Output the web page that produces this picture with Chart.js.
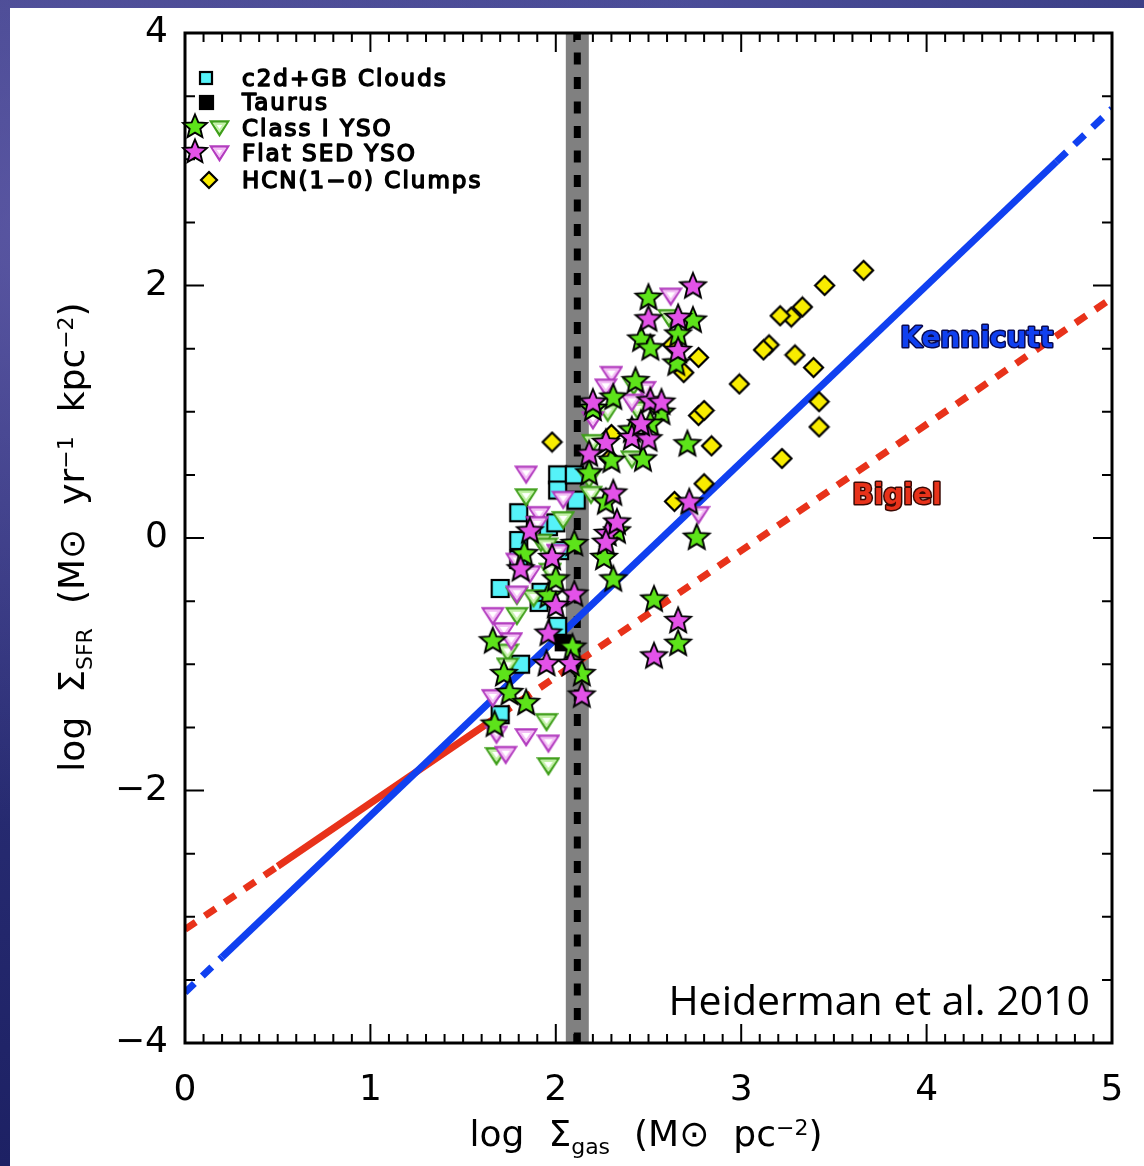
<!DOCTYPE html>
<html>
<head>
<meta charset="utf-8">
<script src="https://cdn.jsdelivr.net/npm/chart.js@4.4.1/dist/chart.umd.min.js"></script>
<style>
  html, body { margin: 0; padding: 0; }
  body {
    width: 1144px; height: 1166px; overflow: hidden; position: relative;
    background:
      radial-gradient(ellipse at 5% 20%, rgba(120,110,190,0.55), rgba(0,0,0,0) 45%),
      radial-gradient(ellipse at 60% 0%, rgba(90,90,170,0.5), rgba(0,0,0,0) 50%),
      linear-gradient(180deg, #3b3f86 0%, #2c3078 50%, #1d2164 100%);
  }
  #panel { position: absolute; left: 10px; top: 8px; width: 1134px; height: 1158px; background: #fff; }
  #chart { position: absolute; left: 0; top: 0; width: 1144px; height: 1166px; }
</style>
</head>
<body>
<div id="panel"></div>
<canvas id="chart" width="1144" height="1166"></canvas>
<script>
// log Σgas vs log ΣSFR, pairs [x, y]
const c2dClouds = [
  [2.01, 0.50], [2.01, 0.38], [2.10, 0.50], [2.11, 0.30], [1.80, 0.20], [1.89, 0.10],
  [1.96, 0.09], [2.00, 0.12], [1.80, -0.02], [2.02, -0.10], [1.80, -0.17], [1.70, -0.40],
  [1.91, -0.51], [1.92, -0.43], [2.01, -0.70], [1.81, -1.00], [1.70, -1.40]
];
const taurus = [[2.04, -0.83]];
const class1Stars = [
  [2.50, 1.91], [2.74, 1.73], [2.46, 1.58], [2.51, 1.51], [2.66, 1.62], [2.65, 1.39],
  [2.43, 1.25], [2.31, 1.12], [2.20, 1.03], [2.57, 1.00], [2.41, 0.86], [2.51, 0.91],
  [2.30, 0.62], [2.47, 0.63], [2.71, 0.75], [2.18, 0.52], [2.27, 0.29], [2.33, 0.06],
  [2.10, -0.04], [2.76, 0.01], [2.26, -0.15], [2.31, -0.32], [2.53, -0.48], [2.66, -0.83],
  [1.96, -0.45], [2.00, -0.32], [1.83, -0.12], [1.66, -0.81], [1.72, -1.07], [1.75, -1.22],
  [1.84, -1.30], [1.67, -1.47], [2.09, -0.86], [2.14, -1.07]
];
const class1Limits = [
  [2.61, 1.74], [2.42, 1.20], [2.28, 0.99], [2.44, 1.01], [2.20, 0.75], [2.41, 0.62],
  [2.18, 0.46], [2.19, 0.34], [1.84, 0.32], [2.04, 0.14], [1.92, -0.04], [1.95, -0.07],
  [1.97, -0.27], [1.79, -0.46], [1.88, -0.48], [1.79, -0.62], [1.74, -0.91], [1.74, -1.02],
  [1.95, -1.46], [1.68, -1.73], [1.96, -1.81]
];
const flatStars = [
  [2.74, 2.00], [2.50, 1.74], [2.66, 1.75], [2.66, 1.49], [2.20, 1.08], [2.51, 1.09],
  [2.57, 1.08], [2.41, 0.80], [2.50, 0.79], [2.27, 0.76], [2.18, 0.67], [2.46, 0.91],
  [2.31, 0.36], [2.28, 0.04], [2.33, 0.13], [2.72, 0.29], [1.86, 0.06], [2.27, -0.03],
  [1.81, -0.24], [1.98, -0.15], [2.10, -0.44], [2.00, -0.53], [1.96, -0.75], [1.95, -0.99],
  [2.08, -0.99], [2.14, -1.24], [2.66, -0.65], [2.53, -0.93]
];
const flatLimits = [
  [2.62, 1.91], [2.30, 1.29], [2.27, 1.19], [2.48, 1.17], [2.41, 1.07], [2.20, 0.93],
  [1.84, 0.50], [2.04, 0.30], [1.91, 0.18], [2.77, 0.18], [1.90, 0.10], [1.79, -0.19],
  [1.86, -0.29], [1.79, -0.45], [1.66, -0.62], [1.72, -0.74], [1.76, -0.82], [1.66, -1.27],
  [1.68, -1.56], [1.84, -1.58], [1.96, -1.63], [1.73, -1.72], [2.01, -0.12]
];
const hcnClumps = [
  [3.66, 2.12], [3.45, 2.00], [3.33, 1.83], [3.27, 1.75], [3.21, 1.76], [3.15, 1.53],
  [3.12, 1.49], [3.29, 1.45], [3.39, 1.35], [2.99, 1.22], [3.42, 1.08], [3.42, 0.88],
  [3.22, 0.63], [2.84, 0.73], [2.77, 0.97], [2.80, 1.01], [2.80, 0.43], [2.64, 0.29],
  [2.77, 1.43], [2.69, 1.31], [1.98, 0.76], [2.30, 0.82], [2.29, 0.63], [2.63, 1.53]
];

// Kennicutt and Bigiel relations: fitted range solid, extrapolation dashed
const kennicuttFit = [[0.2, -3.32], [4.7, 2.98]];
const kennicuttLow = [[0, -3.6], [0.2, -3.32]];
const kennicuttHigh = [[4.7, 2.98], [5, 3.4]];
const bigielFit = [[0.5, -2.6], [1.7, -1.4]];
const bigielLow = [[0, -3.1], [0.5, -2.6]];
const bigielHigh = [[1.7, -1.4], [5, 1.9]];

// star formation threshold (band and central value)
const thresholdBand = [2.054, 2.178];
const thresholdLine = 2.116;

const xTicks = [0, 1, 2, 3, 4, 5];
const yTicks = [-4, -2, 0, 2, 4];
const xMinor = 0.1;
const yMinor = 0.5;

const legendRows = ['c2d+GB Clouds', 'Taurus', 'Class I YSO', 'Flat SED YSO', 'HCN(1\u22120) Clumps'];

const toXY = arr => arr.map(p => ({ x: p[0], y: p[1] }));

function makeCanvas(w, h, draw) {
  const c = document.createElement('canvas');
  c.width = w; c.height = h;
  draw(c.getContext('2d'), w, h);
  return c;
}
function starImg(fill, R) {
  const s = Math.ceil(R * 2 + 5);
  return makeCanvas(s, s, g => {
    g.beginPath();
    for (let i = 0; i < 10; i++) {
      const r = i % 2 ? R * 0.45 : R;
      const a = -Math.PI / 2 + i * Math.PI / 5;
      const px = s / 2 + r * Math.cos(a), py = s / 2 + 1 + r * Math.sin(a);
      if (i) g.lineTo(px, py); else g.moveTo(px, py);
    }
    g.closePath();
    g.fillStyle = fill; g.fill();
    g.lineJoin = 'miter'; g.lineWidth = 1.9; g.strokeStyle = '#000'; g.stroke();
  });
}
function triImg(edge, pale, w) {
  const h = Math.round(w * 0.87);
  return makeCanvas(w + 4, h + 4, g => {
    g.beginPath(); g.moveTo(2, 2.5); g.lineTo(w + 2, 2.5); g.lineTo(w / 2 + 2, h + 1); g.closePath();
    g.fillStyle = '#fff'; g.fill();
    g.lineJoin = 'miter'; g.lineWidth = 2.4; g.strokeStyle = edge; g.stroke();
    g.beginPath(); g.moveTo(5.6, 4.8); g.lineTo(w - 1.6, 4.8); g.lineTo(w / 2 + 2, h - 3.2); g.closePath();
    g.lineWidth = 2.2; g.strokeStyle = pale; g.stroke();
  });
}
function squareImg(fill, s) {
  return makeCanvas(s + 4, s + 4, g => {
    g.fillStyle = fill; g.fillRect(2, 2, s, s);
    g.lineWidth = 2.2; g.strokeStyle = '#000'; g.strokeRect(2, 2, s, s);
  });
}
function diamondImg(fill, r) {
  const s = 2 * r + 4;
  return makeCanvas(s, s, g => {
    g.beginPath(); g.moveTo(s / 2, 2); g.lineTo(s - 2, s / 2); g.lineTo(s / 2, s - 2); g.lineTo(2, s / 2); g.closePath();
    g.fillStyle = fill; g.fill();
    g.lineJoin = 'miter'; g.lineWidth = 2.2; g.strokeStyle = '#000'; g.stroke();
  });
}

const imgs = {
  cloud: squareImg('#55f2f8', 17),
  cloudLegend: squareImg('#55f2f8', 12),
  taurus: squareImg('#000', 15),
  taurusLegend: squareImg('#000', 13),
  gStar: starImg('#5de31a', 13.5),
  mStar: starImg('#e352e8', 13.5),
  gStarLegend: starImg('#5de31a', 12.5),
  mStarLegend: starImg('#e352e8', 12.5),
  gTri: triImg('#3f9f1a', '#c4f2a8', 20),
  mTri: triImg('#b33cbf', '#f4bff6', 20),
  gTriLegend: triImg('#3f9f1a', '#c4f2a8', 17),
  mTriLegend: triImg('#b33cbf', '#f4bff6', 17),
  hcn: diamondImg('#f8ec00', 9.5),
  hcnLegend: diamondImg('#f8ec00', 8)
};

function points(label, data, img, order) {
  return { label, data: toXY(data), pointStyle: img, pointRadius: 10, order };
}
function lineSet(label, data, color, dash, order) {
  return {
    label, data: toXY(data), showLine: true, pointRadius: 0, borderColor: color,
    borderWidth: 7, borderDash: dash, borderCapStyle: 'butt', order
  };
}

const blue = '#1040f0';
const red = '#e8321a';

const bigFont = '36px "DejaVu Sans"';
const smallFont = '22px "DejaVu Sans"';

// text with subscripts ('b') and superscripts ('p'); numbers are gaps
function richText(g, parts, x, y) {
  let w = 0;
  parts.forEach(p => {
    if (typeof p === 'number') { w += p; return; }
    g.font = p[1] === 'n' ? bigFont : smallFont;
    w += g.measureText(p[0]).width;
  });
  let cx = x - w / 2;
  parts.forEach(p => {
    if (typeof p === 'number') { cx += p; return; }
    g.font = p[1] === 'n' ? bigFont : smallFont;
    const dy = p[1] === 'b' ? 8 : p[1] === 'p' ? -11 : 0;
    g.fillText(p[0], cx, y + dy);
    cx += g.measureText(p[0]).width;
  });
}

const bandPlugin = {
  id: 'band',
  beforeDatasetsDraw(chart) {
    const { ctx, chartArea: a } = chart;
    const sx = chart.scales.x;
    ctx.save();
    const x0 = sx.getPixelForValue(thresholdBand[0]);
    const x1 = sx.getPixelForValue(thresholdBand[1]);
    ctx.fillStyle = '#808080';
    ctx.fillRect(x0, a.top, x1 - x0, a.bottom - a.top);
    const xc = sx.getPixelForValue(thresholdLine);
    ctx.strokeStyle = '#000'; ctx.lineWidth = 7;
    ctx.setLineDash([12, 12.5]); ctx.lineDashOffset = 5;
    ctx.beginPath(); ctx.moveTo(xc, a.top); ctx.lineTo(xc, a.bottom); ctx.stroke();
    ctx.restore();
  }
};

const framePlugin = {
  id: 'frame',
  afterDraw(chart) {
    const { ctx, chartArea: a } = chart;
    const sx = chart.scales.x, sy = chart.scales.y;
    ctx.save();
    ctx.setLineDash([]);
    ctx.strokeStyle = '#000';
    ctx.lineWidth = 2;

    // x ticks, inward on bottom and top
    const xPerMajor = Math.round((xTicks[1] - xTicks[0]) / xMinor);
    const nx = Math.round((xTicks[xTicks.length - 1] - xTicks[0]) / xMinor);
    ctx.beginPath();
    for (let i = 0; i <= nx; i++) {
      const px = sx.getPixelForValue(xTicks[0] + i * xMinor);
      const len = i % xPerMajor === 0 ? 19 : 9;
      ctx.moveTo(px, a.bottom); ctx.lineTo(px, a.bottom - len);
      ctx.moveTo(px, a.top); ctx.lineTo(px, a.top + len);
    }
    ctx.stroke();

    // y ticks, inward on left and right
    const yPerMajor = Math.round((yTicks[1] - yTicks[0]) / yMinor);
    const ny = Math.round((yTicks[yTicks.length - 1] - yTicks[0]) / yMinor);
    ctx.beginPath();
    for (let i = 0; i <= ny; i++) {
      const py = sy.getPixelForValue(yTicks[0] + i * yMinor);
      const len = i % yPerMajor === 0 ? 19 : 10;
      ctx.moveTo(a.left, py); ctx.lineTo(a.left + len, py);
      ctx.moveTo(a.right, py); ctx.lineTo(a.right - len, py);
    }
    ctx.stroke();

    ctx.lineWidth = 3;
    ctx.strokeRect(a.left, a.top, a.right - a.left, a.bottom - a.top);

    // relation labels
    ctx.font = 'bold 28px "DejaVu Sans"';
    ctx.textAlign = 'center'; ctx.textBaseline = 'middle';
    ctx.lineJoin = 'round';
    ctx.lineWidth = 3; ctx.strokeStyle = '#0a0a50';
    ctx.strokeText('Kennicutt', sx.getPixelForValue(4.27), sy.getPixelForValue(1.57));
    ctx.fillStyle = blue;
    ctx.fillText('Kennicutt', sx.getPixelForValue(4.27), sy.getPixelForValue(1.57));
    ctx.strokeStyle = '#3a0a05';
    ctx.strokeText('Bigiel', sx.getPixelForValue(3.84), sy.getPixelForValue(0.33));
    ctx.fillStyle = red;
    ctx.fillText('Bigiel', sx.getPixelForValue(3.84), sy.getPixelForValue(0.33));

    // legend
    const rowY = [78, 102, 128, 153, 180];
    const put = (img, cx, cy) => ctx.drawImage(img, Math.round(cx - img.width / 2), Math.round(cy - img.height / 2));
    put(imgs.cloudLegend, 206, rowY[0]);
    put(imgs.taurusLegend, 206, rowY[1]);
    put(imgs.gStarLegend, 195, rowY[2] - 2);
    put(imgs.gTriLegend, 219, rowY[2]);
    put(imgs.mStarLegend, 195, rowY[3] - 2);
    put(imgs.mTriLegend, 219, rowY[3]);
    put(imgs.hcnLegend, 209, rowY[4]);
    ctx.font = '23px "DejaVu Sans"';
    ctx.letterSpacing = '2px';
    ctx.textAlign = 'left'; ctx.textBaseline = 'alphabetic';
    ctx.fillStyle = '#000'; ctx.strokeStyle = '#000'; ctx.lineWidth = 1.5;
    legendRows.forEach((t, i) => {
      ctx.fillText(t, 242, rowY[i] + 8);
      ctx.strokeText(t, 242, rowY[i] + 8);
    });
    ctx.letterSpacing = '0px';

    // citation
    ctx.font = '41px "Open Sans"';
    ctx.textAlign = 'right';
    ctx.fillText('Heiderman et al. 2010', a.right - 22, a.bottom - 28);

    // axis titles
    ctx.textAlign = 'left';
    richText(ctx, [['log', 'n'], 24, ['\u03a3', 'n'], ['gas', 'b'], 24, ['(M', 'n'], ['\u2299', 'n'], 24,
      ['pc', 'n'], ['\u22122', 'p'], [')', 'n']], 646, 1146);
    ctx.save();
    ctx.translate(84, 537);
    ctx.rotate(-Math.PI / 2);
    richText(ctx, [['log', 'n'], 24, ['\u03a3', 'n'], ['SFR', 'b'], 24, ['(M', 'n'], ['\u2299', 'n'], 24,
      ['yr', 'n'], ['\u22121', 'p'], 24, ['kpc', 'n'], ['\u22122', 'p'], [')', 'n']], 0, 0);
    ctx.restore();
    ctx.restore();
  }
};

const tickFont = { family: 'DejaVu Sans', size: 36 };
const minus = v => String(v).replace('-', '\u2212');
// invisible tick marks only reserve label spacing
const hiddenGrid = len => ({ display: true, drawOnChartArea: false, drawTicks: true, tickLength: len, color: 'rgba(0,0,0,0)' });

new Chart(document.getElementById('chart'), {
  type: 'scatter',
  data: {
    datasets: [
      lineSet('Bigiel', bigielFit, red, [], 21),
      lineSet('Bigiel low', bigielLow, red, [13, 11], 22),
      lineSet('Bigiel high', bigielHigh, red, [13, 11], 22),
      lineSet('Kennicutt', kennicuttFit, blue, [], 20),
      lineSet('Kennicutt low', kennicuttLow, blue, [13, 11], 20),
      lineSet('Kennicutt high', kennicuttHigh, blue, [14, 11], 20),
      points('HCN(1-0) Clumps', hcnClumps, imgs.hcn, 9),
      points('c2d+GB Clouds', c2dClouds, imgs.cloud, 8),
      points('Class I YSO limits', class1Limits, imgs.gTri, 6),
      points('Flat SED YSO limits', flatLimits, imgs.mTri, 5),
      points('Taurus', taurus, imgs.taurus, 4),
      points('Class I YSO', class1Stars, imgs.gStar, 3),
      points('Flat SED YSO', flatStars, imgs.mStar, 2)
    ]
  },
  options: {
    responsive: false,
    animation: false,
    devicePixelRatio: 1,
    layout: { padding: { top: 33, right: 32, left: 0, bottom: 0 } },
    plugins: { legend: { display: false }, tooltip: { enabled: false } },
    scales: {
      x: {
        type: 'linear', min: 0, max: 5,
        grid: hiddenGrid(26), border: { display: false },
        afterBuildTicks: s => { s.ticks = xTicks.map(v => ({ value: v })); },
        ticks: { font: tickFont, color: '#000', padding: 0, maxRotation: 0, callback: minus },
        afterFit: s => { s.height = 123; }
      },
      y: {
        type: 'linear', min: -4, max: 4,
        grid: hiddenGrid(17), border: { display: false },
        afterBuildTicks: s => { s.ticks = yTicks.map(v => ({ value: v })); },
        ticks: { font: tickFont, color: '#000', padding: 0, callback: minus },
        afterFit: s => { s.width = 185; }
      }
    }
  },
  plugins: [bandPlugin, framePlugin]
});
</script>
</body>
</html>
